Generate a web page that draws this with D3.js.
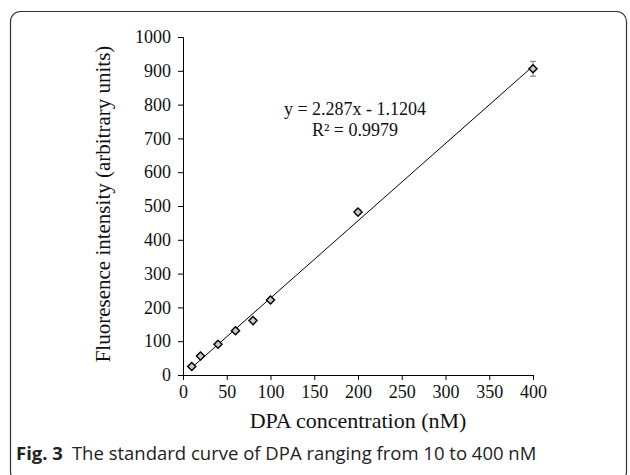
<!DOCTYPE html>
<html>
<head>
<meta charset="utf-8">
<script src="https://cdn.jsdelivr.net/npm/d3@7"></script>
<style>
  body { margin: 0; background: #fff; }
  svg { display: block; }
</style>
</head>
<body>
<div id="chart"></div>
<script>
const concentrations = [10, 20, 40, 60, 80, 100, 200, 400];
const intensities = [25, 56, 91, 131, 161, 222, 482, 906];
const errors = [3, 3, 3, 4, 4, 4, 6, 22];
const xTicks = [0, 50, 100, 150, 200, 250, 300, 350, 400];
const yTicks = [0, 100, 200, 300, 400, 500, 600, 700, 800, 900, 1000];
const slope = 2.287;
const intercept = -1.1204;

const width = 630;
const height = 475;
const margin = { top: 37, right: 97, bottom: 100, left: 183 };
const innerW = width - margin.left - margin.right;
const innerH = height - margin.top - margin.bottom;
const serif = '"Liberation Serif", "Times New Roman", serif';

const svg = d3.select('#chart')
  .append('svg')
  .attr('width', width)
  .attr('height', height);

// frame around figure + caption
svg.append('rect')
  .attr('x', 10.5).attr('y', 11.5)
  .attr('width', 616).attr('height', 470)
  .attr('rx', 10)
  .attr('fill', 'none')
  .attr('stroke', '#333')
  .attr('stroke-width', 1.2);

const g = svg.append('g').attr('transform', `translate(${margin.left},${margin.top})`);

const x = d3.scaleLinear().domain([0, 400]).range([0, innerW]);
const y = d3.scaleLinear().domain([0, 1000]).range([innerH, 0]);

// X axis
g.append('g')
  .attr('transform', `translate(0,${innerH})`)
  .call(d3.axisBottom(x).tickValues(xTicks).tickFormat(d3.format('d')).tickSize(5).tickPadding(5))
  .call(a => a.select('.domain').attr('stroke', '#000'))
  .call(a => a.selectAll('.tick line').attr('stroke', '#000'))
  .call(a => a.selectAll('.tick text').attr('fill', '#111').style('font-family', serif).style('font-size', '18px'));

// Y axis
g.append('g')
  .call(d3.axisLeft(y).tickValues(yTicks).tickFormat(d3.format('d')).tickSize(5).tickPadding(7))
  .call(a => a.select('.domain').attr('stroke', '#000'))
  .call(a => a.selectAll('.tick line').attr('stroke', '#000'))
  .call(a => a.selectAll('.tick text').attr('fill', '#111').style('font-family', serif).style('font-size', '18px'));

// trend line
const xr = d3.extent(concentrations);
g.append('line')
  .attr('x1', x(xr[0])).attr('y1', y(slope * xr[0] + intercept))
  .attr('x2', x(xr[1])).attr('y2', y(slope * xr[1] + intercept))
  .attr('stroke', '#000')
  .attr('stroke-width', 1);

const pts = concentrations.map((c, i) => ({ c, v: intensities[i], e: errors[i] }));

// error bars
const eb = g.selectAll('.err').data(pts).join('g').attr('class', 'err').attr('stroke', '#777');
eb.append('line')
  .attr('x1', d => x(d.c)).attr('x2', d => x(d.c))
  .attr('y1', d => y(d.v - d.e)).attr('y2', d => y(d.v + d.e));
eb.append('line')
  .attr('x1', d => x(d.c) - 3).attr('x2', d => x(d.c) + 3)
  .attr('y1', d => y(d.v + d.e)).attr('y2', d => y(d.v + d.e));
eb.append('line')
  .attr('x1', d => x(d.c) - 3).attr('x2', d => x(d.c) + 3)
  .attr('y1', d => y(d.v - d.e)).attr('y2', d => y(d.v - d.e));

// diamond markers
const diamond = d3.symbol().type(d3.symbolDiamond2).size(42);
g.selectAll('.pt')
  .data(pts)
  .join('path')
  .attr('class', 'pt')
  .attr('d', diamond)
  .attr('transform', d => `translate(${x(d.c)},${y(d.v)})`)
  .attr('fill', '#c8c8c8')
  .attr('stroke', '#000')
  .attr('stroke-width', 1.4);

// equation
const eq = g.append('text')
  .attr('text-anchor', 'middle')
  .style('font-family', serif)
  .style('font-size', '18px')
  .attr('fill', '#111');
eq.append('tspan').attr('x', 172).attr('y', 78).text('y = 2.287x - 1.1204');
eq.append('tspan').attr('x', 172).attr('y', 99).text('R² = 0.9979');

// axis titles
svg.append('text')
  .attr('x', 358).attr('y', 428)
  .attr('text-anchor', 'middle')
  .style('font-family', serif)
  .style('font-size', '22px')
  .attr('fill', '#111')
  .text('DPA concentration (nM)');

svg.append('text')
  .attr('transform', `translate(110,${margin.top + innerH / 2 - 2}) rotate(-90)`)
  .attr('text-anchor', 'middle')
  .style('font-family', serif)
  .style('font-size', '21px')
  .attr('fill', '#111')
  .text('Fluoresence intensity (arbitrary units)');

// caption
const cap = svg.append('text')
  .attr('x', 16).attr('y', 460)
  .style('font-family', '"Open Sans", "Noto Sans", sans-serif')
  .style('font-size', '18.5px')
  .attr('fill', '#222');
cap.append('tspan').style('font-weight', 'bold').text('Fig. 3');
cap.append('tspan').attr('dx', 9).text('The standard curve of DPA ranging from 10 to 400 nM');
</script>
</body>
</html>
